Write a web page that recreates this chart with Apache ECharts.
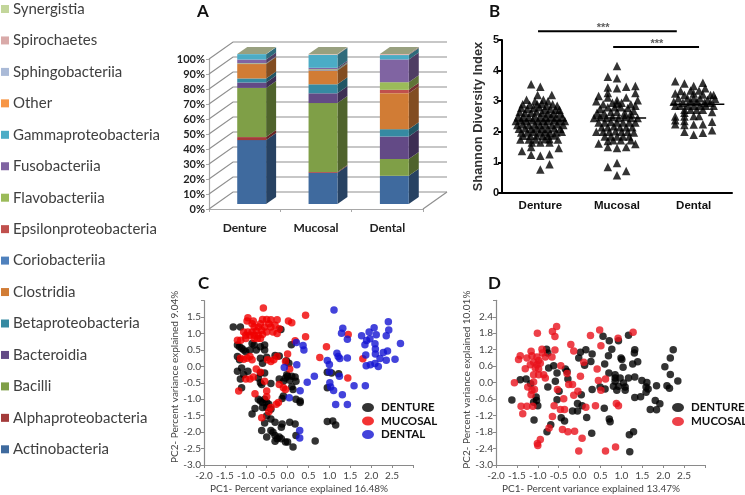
<!DOCTYPE html>
<html><head><meta charset="utf-8">
<style>html,body{margin:0;padding:0;background:#fff}#c{width:745px;height:495px}</style>
<script src="https://cdn.jsdelivr.net/npm/echarts@6/dist/echarts.min.js"></script>
</head><body><div id="c"></div>
<script>
const groups = ['Denture','Mucosal','Dental'];
const taxa = ['Actinobacteria','Alphaproteobacteria','Bacilli','Bacteroidia','Betaproteobacteria','Clostridia','Coriobacteriia','Epsilonproteobacteria','Flavobacteriia','Fusobacteriia','Gammaproteobacteria','Other','Sphingobacteriia','Spirochaetes','Synergistia'];
const taxaColors = ['#3f6a9e','#a33b3a','#7f9f47','#634a86','#368aa2','#d17c35','#4f81bd','#c0504d','#9bbb59','#8064a2','#4bacc6','#f79646','#aabad7','#d9aaa9','#c3d69b'];
const dentureShare = [42.6,2.0,32.8,3.6,2.7,9.6,0.2,0.1,0.3,2.4,3.6,0,0,0,0];
const mucosalShare = [20.8,0.6,45.9,6.5,6.0,9.2,0.3,0.1,0.4,1.0,8.7,0.2,0.1,0.1,0];
const dentalShare = [18.8,0,11.2,15.0,4.9,24.0,0,2.2,5.1,15.2,2.9,0.2,0,0.5,0];
const percentTicks = [0,10,20,30,40,50,60,70,80,90,100];

const shannonDenture = [[.38,3.55],[.5,3.47],[.465,3.2],[.65,3.2],[.32,3.05],[.54,3.05],[.43,3],[.6,3],
[.27,2.9],[.36,2.88],[.46,2.9],[.52,2.92],[.58,2.85],[.66,2.9],[.72,2.85],[.25,2.78],[.33,2.75],[.41,2.78],[.49,2.8],[.56,2.72],[.63,2.75],[.7,2.72],[.75,2.72],
[.23,2.65],[.3,2.62],[.38,2.62],[.45,2.66],[.52,2.62],[.6,2.6],[.67,2.6],[.76,2.6],[.21,2.5],[.28,2.5],[.35,2.48],[.43,2.52],[.5,2.5],[.57,2.48],[.64,2.5],[.71,2.48],[.79,2.48],
[.18,2.35],[.25,2.38],[.32,2.35],[.4,2.38],[.47,2.35],[.54,2.36],[.6,2.35],[.68,2.38],[.75,2.35],[.82,2.35],[.2,2.22],[.27,2.25],[.35,2.22],[.43,2.25],[.5,2.22],[.57,2.24],[.65,2.22],[.72,2.25],[.8,2.22],
[.22,2.1],[.3,2.12],[.38,2.1],[.45,2.12],[.52,2.1],[.6,2.1],[.68,2.12],[.76,2.1],[.25,1.98],[.33,1.98],[.41,2],[.49,1.98],[.56,2],[.63,1.96],[.71,1.98],[.78,2],
[.28,1.87],[.37,1.87],[.45,1.88],[.53,1.86],[.6,1.87],[.68,1.88],[.24,1.75],[.35,1.75],[.44,1.75],[.56,1.76],[.62,1.76],[.73,1.75],[.5,1.65],[.39,1.65],[.62,1.65],
[.38,1.5],[.74,1.47],[.26,1.37],[.38,1.25],[.5,1.22],[.62,1.27],[.62,.94],[.5,.77]];
const shannonMucosal = [[1.5,4.15],[1.38,3.8],[1.5,3.75],[1.38,3.45],[1.5,3.42],[1.62,3.47],[1.74,3.5],[1.74,3.27],[1.38,3.27],[1.26,3.17],[1.23,3],[1.62,3.12],[1.38,3.12],[1.5,3.03],[1.77,3.03],
[1.32,2.9],[1.44,2.95],[1.5,2.92],[1.56,2.95],[1.68,2.9],[1.74,2.85],[1.28,2.75],[1.38,2.8],[1.47,2.8],[1.55,2.8],[1.64,2.78],[1.72,2.68],[1.24,2.62],[1.33,2.62],[1.42,2.65],[1.5,2.65],[1.6,2.62],[1.68,2.6],
[1.2,2.45],[1.28,2.48],[1.36,2.45],[1.44,2.48],[1.52,2.45],[1.6,2.48],[1.68,2.45],[1.77,2.45],[1.26,2.3],[1.34,2.3],[1.42,2.32],[1.5,2.3],[1.58,2.3],[1.66,2.3],[1.74,2.3],
[1.3,2.15],[1.38,2.15],[1.46,2.18],[1.54,2.15],[1.62,2.15],[1.7,2.15],[1.23,2],[1.32,2],[1.4,2],[1.48,2.02],[1.56,2],[1.64,2],[1.72,1.98],[1.34,1.85],[1.42,1.85],[1.5,1.85],[1.58,1.85],[1.66,1.85],
[1.26,1.62],[1.38,1.7],[1.45,1.72],[1.55,1.72],[1.68,1.72],[1.74,1.6],[1.38,1.5],[1.5,1.47],[1.62,1.5],[1.38,.85],[1.5,.98],[1.62,.72],[1.5,.58]];
const shannonDental = [[2.26,3.65],[2.38,3.58],[2.5,3.5],[2.62,3.6],[2.65,3.42],[2.26,3.25],[2.33,3.33],[2.46,3.35],[2.57,3.35],[2.76,3.2],[2.78,3.08],[2.72,3.2],
[2.38,3.2],[2.5,3.25],[2.62,3.22],[2.3,3.1],[2.42,3.1],[2.5,3.1],[2.58,3.1],[2.68,3.05],[2.24,2.98],[2.36,2.95],[2.46,2.98],[2.54,2.98],[2.64,2.95],[2.72,2.95],
[2.26,2.85],[2.32,2.85],[2.42,2.85],[2.5,2.85],[2.58,2.85],[2.66,2.85],[2.76,2.85],[2.38,2.72],[2.46,2.72],[2.54,2.72],[2.62,2.72],[2.74,2.65],
[2.26,2.5],[2.38,2.5],[2.38,2.62],[2.5,2.52],[2.57,2.52],[2.26,2.38],[2.38,2.35],[2.26,2.25],[2.38,2.22],[2.5,2.24],[2.62,2.25],[2.74,2.33],[2.38,2],[2.5,1.9],[2.62,1.97],[2.74,2.05]];
const shannonMeans = [[.16,.84,2.35],[1.19,1.88,2.45],[2.2,2.9,2.9]];
const significance = [[.47,2.28,5.29,1.32],[1.45,2.57,4.77,2.02]];

const pcoaDental = [[1.11,1.72],[1.32,1.16],[1.29,1.01],[1.43,.83],[1.77,.93],[1.95,1.05],[2.07,1.18],[2.41,1.36],[2.42,1.11],[2.36,.93],[2.12,.96],[1.97,.84],[1.89,.79],[1.85,.66],[2.09,.69],[2.7,.7],[2.1,.53],[2.1,.38],[2.29,.42],[2.39,.47],[1.87,.35],[2.21,.24],[2.36,.19],[2.57,.22],[1.88,.02],[1.98,.05],[2.09,.09],[2.17,0],[1.18,.4],[1.21,.3],[1.25,.24],[1.43,.26],[.95,.18],[1,.06],[1,-.16],[1.24,-.3],[1.01,-.5],[1.03,-.63],[1.1,-.73],[1.31,-.86],[1.15,-1.16],[1.43,-1.16],[1.59,-.59],[1.86,-.59],[.64,-.3],[.47,-.48],[.3,-.74],[.21,.73],[.37,.64],[.39,.5],[.22,.05],[-.08,-.03],[.04,-.95],[.29,-1.95],[.29,-2.18]];
const pcoaMucosal = [[-.58,1.78],[.43,1.56],[-.95,1.48],[-.97,1.38],[-.82,1.38],[-.6,1.43],[-.5,1.43],[-.4,1.42],[-.25,1.42],[.02,1.38],[.1,1.33],[-.85,1.3],[-.65,1.3],[-.45,1.3],[-.3,1.25],[-.8,1.2],[-.7,1.2],[-.55,1.2],[-.4,1.2],[-.2,1.15],[-1.05,1.05],[-.95,1.05],[-.85,1.05],[-.75,1.08],[-.62,1.1],[-.5,1.05],[-.35,1.05],[-.25,1],[-1,.95],[-.9,.95],[-.8,.95],[-.7,.95],[-.6,.97],[-.8,.85],[-.72,.85],[-.65,.85],[-1.2,.8],[-1.12,.8],[-1,.85],[.43,.9],[.93,.6],[.77,.27],[1.45,.97],[1.8,.23],[0,.38],[.18,.78],
[-1.13,.25],[-1.05,.22],[-.97,.25],[-.9,.3],[-.85,.2],[-.48,.2],[-.4,.15],[-.33,.2],[-.25,.3],[-.75,-.08],[-.65,-.18],[.05,-.08],[-1,-.38],[-.9,-.38],[-.82,-.32],[-.55,-.45],[-.2,-.55],[-.1,-.65],[-.05,-.7],[-1.17,-.75],[-.78,-.83],[-.5,-.75],[-.5,-.92],[-.27,-1.15],[-.22,-1.1],[-.4,-1.25],[-.45,-1.38],[-.62,-1.56],[1.44,-.35],[-.05,.15]];
const pcoaDenture = [[-1.3,1.2],[-1.13,1.2],[-.16,1.12],[.09,.66],[-1.2,.65],[-1.15,.6],[-1.1,.55],[-1.05,.5],[-1,.45],[-.9,.5],[-.85,.7],[-.8,.65],[-.75,.5],[-.65,.6],[-.55,.65],[-.55,.5],[-1.2,.3],[-1.15,.2],[-1.2,-.15],[-1.1,-.05],[-1.13,-.38],[-1.05,-.25],[-.95,-.15],[-1.1,-.65],[-.65,.25],[-.6,.1],[-.5,.28],[-.3,.33],[-.2,.32],[-.03,.17],[.03,.1],[-.65,-.2],[-.7,-.35],[-.55,-.2],[-.65,-.5],[-.62,-.55],[-.4,-.52],[-.2,-.38],[-.1,-.45],[-.05,-.35],[0,-.3],[.05,-.42],[.1,-.3],[.18,-.32],[.2,-.45],[-.02,-.25],[.13,-.7],[.1,-.62],[-.1,-.9],[-.13,-.98],[.2,-1],[.3,-1.05],[.3,-1.1],
[-.7,-1],[-.65,-1.05],[-.6,-1.1],[-.55,-1],[-.5,-1.1],[-.45,-1.15],[-.6,-1.25],[-.5,-1.25],[-.4,-1.3],[-.78,-1.28],[-.85,-1.45],[-.5,-1.5],[-.4,-1.6],[-.3,-1.7],[-.13,-1.75],[.05,-1.7],[.18,-1.75],[-.55,-1.72],[-.15,-1.85],[-.62,-1.95],[-.4,-1.95],[-.35,-2],[-.3,-2.1],[-.25,-2.2],[-.2,-2.15],[-.15,-2.2],[-.5,-2.15],[-.3,-2.28],[-.05,-2.3],[0,-2.3],[.2,-2.1],[.13,-2.45],[.66,-2.27],[.95,-1.68],[1.08,-1.66],[1.15,-1.78],[.95,-.65],[.95,-.18],[1.22,-.22],[1.05,-.2]];

const pcoa2Mucosal = [[-.55,2.05],[-.65,1.86],[-.59,1.68],[-1.01,1.8],[.48,1.92],[.26,1.72],[1.28,1.84],[.92,1.62],[.51,1.34],[-.21,1.39],[-.14,1.15],[-.59,1.19],[-.9,1.22],[-1.16,1.14],[-1.42,.98],[-1.46,.84],[-1.26,.9],[-1.14,.98],[-1.02,.93],[-.89,1.08],[-.82,.93],[-.66,.93],[-.98,.81],[-1.1,.74],[-1.18,.65],[-1.3,.51],[-1.02,.65],[-.94,.71],[-1.06,.53],[-.98,.5],[-1.1,.29],[-.98,.29],[-.86,.29],[-.82,.17],[-1.1,.02],[-1.56,0],[-1.24,-.16],[-1.14,-.28],[-1.08,-.25],[-1.16,-.44],[-1.4,-.86],[-1.26,-.86],[-1.12,-.86],[-1.36,-1.13],[-.45,.62],[-.3,.33],[-.53,-.25],[-.26,-.07],[-.17,-.07],[-.04,-.31],[-.14,-.46],[-.38,-.59],[-.61,-.84],[-.36,-.98],[-.46,-.98],[.15,-.9],[.38,-.84],[.88,-.76],[.93,-.84],[-.65,-1.23],[-.73,-1.65],[-.41,-1.71],[-.28,-1.79],[-.12,-1.77],[.06,-2.03],[-.94,-2.07],[-1.01,-2.22],[-1,-2.29],[-.02,-2.49],[.62,-2.49],[.86,-2.34],[.02,.23],[.1,.74],[.42,.5],[.45,.08],[.62,.13],[.51,-.28]];
const pcoa2Denture = [[.56,1.69],[.71,1.53],[.93,1.53],[1.17,1.73],[.77,1.22],[1.32,1.2],[1.31,1.08],[2.24,1.2],[2.17,.9],[2.04,.58],[2.17,.3],[2.35,.06],[.15,1.2],[.02,1.11],[.3,1.04],[-.02,.9],[.27,.77],[.12,.63],[.69,.98],[.99,.9],[1.01,.84],[.6,.68],[1.04,.56],[1.27,.68],[1.39,.76],[.7,.35],[.85,.29],[.85,.17],[.97,.17],[1.17,.17],[1.32,.21],[1.49,.08],[1.61,.01],[.85,.05],[1.05,-.01],[.81,-.13],[.93,-.13],[1.09,-.16],[.89,-.28],[1.09,-.28],[.49,-.16],[.61,-.23],[.3,-.25],[1.59,-.16],[1.64,-.23],[1.59,-.35],[1.84,-.11],[2.09,-.11],[2.15,-.2],[1.46,-.51],[1.32,-.54],[1.81,-.65],[1.92,-.77],[1.69,-.98],[1.84,-.99],[.59,-.93],[.04,-.44],[-.05,-.76],[.06,-.84],[-.17,-1.03],[-.05,-1.03],[.17,-1.27],[.71,-1.32],[.73,-1.42],[.29,-1.84],[1.19,-1.9],[1.29,-1.79],[1.2,-2.52],[-1.62,-.63],[-1.42,.11],[-1.28,.13],[-1.17,-.04],[-.79,1.22],[-.76,1.08],[-.74,.53],[-.62,.62],[-.76,-.16],[-.58,.05],[-.54,.35],[-.34,.5],[-.3,.41],[-.28,.13],[-.49,-.31],[-.54,-.62],[-1.04,-.52],[-1.03,-.65],[-1.1,-.71],[-1,-.84],[-1.09,-1.36],[-.44,-1.28],[-.36,-1.4],[-.69,-1.53],[-.78,-1.79]];

const calibri = 'Lato, Carlito, "Open Sans", sans-serif';
const arial = '"Liberation Sans", Arial, sans-serif';
const WALL = [24,-17], PLANE = [7,-5], DEPTH = [10,-7];
const OVAL = 'path://M0 5a7 5 0 1 0 14 0a7 5 0 1 0 -14 0z';

function darken(hex,f){const n=parseInt(hex.slice(1),16);const c=[n>>16,(n>>8)&255,n&255].map(v=>Math.round(v*f));return `rgb(${c})`;}

const stackSeries = taxa.map((name,t)=>{
  const rows = [dentureShare,mucosalShare,dentalShare].map((r,g)=>{
    let s=0; for(let i=0;i<t;i++) s+=r[i];
    return [g,s,s+r[t]];
  }).filter(d=>d[2]>d[1]);
  return {name,type:'custom',xAxisIndex:0,yAxisIndex:0,z:3,itemStyle:{color:taxaColors[t]},data:rows,
    renderItem(p,api){
      const lo=api.coord([api.value(0),api.value(1)]),hi=api.coord([api.value(0),api.value(2)]);
      const w=api.size([1,0])[0]*0.405, x0=lo[0]+PLANE[0]-w/2, x1=x0+w, y0=lo[1]+PLANE[1], y1=hi[1]+PLANE[1];
      return {type:'group',children:[
        {type:'polygon',shape:{points:[[x1,y0],[x1+DEPTH[0],y0+DEPTH[1]],[x1+DEPTH[0],y1+DEPTH[1]],[x1,y1]]},style:{fill:darken(taxaColors[t],.62)}},
        {type:'rect',shape:{x:x0,y:y1,width:w,height:y0-y1},style:{fill:taxaColors[t]}}
      ]};
    }};
});
const topSeries = {type:'custom',silent:true,xAxisIndex:0,yAxisIndex:0,z:4,data:[[0,100],[1,100],[2,100]],
  renderItem(p,api){
    const hi=api.coord([api.value(0),api.value(1)]);
    const w=api.size([1,0])[0]*0.405,x0=hi[0]+PLANE[0]-w/2,x1=x0+w,y=hi[1]+PLANE[1];
    return {type:'polygon',shape:{points:[[x0,y],[x1,y],[x1+DEPTH[0],y+DEPTH[1]],[x0+DEPTH[0],y+DEPTH[1]]]},style:{fill:'#98a07f'}};
  }};
const wallSeries = {type:'custom',silent:true,xAxisIndex:0,yAxisIndex:0,z:1,data:percentTicks.map(v=>[0,v]),
  renderItem(p,api){
    const cs=p.coordSys,y=api.coord([0,api.value(1)])[1],x=cs.x,r=cs.x+cs.width;
    const st={stroke:'#8f8f8f',lineWidth:1.2,fill:null};
    const kids=[
      {type:'polyline',shape:{points:[[x,y],[x+WALL[0],y+WALL[1]],[r+WALL[0],y+WALL[1]]]},style:st}
    ];
    if(api.value(1)===0) kids.push({type:'line',shape:{x1:r,y1:y,x2:r+WALL[0],y2:y+WALL[1]},style:st});
    return {type:'group',children:kids};
  }};

const tri = (name,data)=>({name,type:'scatter',xAxisIndex:2,yAxisIndex:1,symbol:'triangle',symbolSize:8.5,itemStyle:{color:'#000'},data,z:3});
const meanSeries = shannonMeans.map(m=>({type:'line',xAxisIndex:2,yAxisIndex:1,silent:true,symbol:'none',z:4,lineStyle:{color:'#000',width:1.5},data:[[m[0],m[2]],[m[1],m[2]]]}));
const sigSeries = significance.map(s=>({type:'line',xAxisIndex:2,yAxisIndex:1,silent:true,symbol:'none',clip:false,lineStyle:{color:'#000',width:2},data:[[s[0],s[2]],[s[1],s[2]]]}));
const sigText = {type:'scatter',xAxisIndex:2,yAxisIndex:1,silent:true,clip:false,symbolSize:0,itemStyle:{color:'transparent'},
  label:{show:true,position:'top',distance:-2,formatter:'***',color:'#333',fontFamily:arial,fontSize:11,fontWeight:'bold'},
  data:significance.map(s=>[s[3],s[2]])};

const pc = (name,color,x,y,data,z)=>({name,type:'scatter',xAxisIndex:x,yAxisIndex:y,symbolSize:7.5,itemStyle:{color},data,z});

const valAxis=(grid,o)=>Object.assign({type:'value',gridIndex:grid,splitLine:{show:false},
  axisLine:{show:true,onZero:false,lineStyle:{color:'#8a8a8a',width:1.2}},axisTick:{show:true,length:3,lineStyle:{color:'#8a8a8a'}},
  nameLocation:'middle'},o);
const nameFont=padding=>({color:'#444',fontFamily:calibri,fontSize:10,padding});
const oneDec=lim=>v=>v>=lim?'':v.toFixed(1);
const tickFont=(margin,lim)=>({color:'#444',fontFamily:calibri,fontSize:10,margin,formatter:oneDec(lim)});
const keyText=pad=>({fontFamily:calibri,fontSize:11.5,fontWeight:'bold',color:'#111',height:13,lineHeight:13,padding:[0,0,0,pad]});

const chart = echarts.init(document.getElementById('c'),null,{renderer:'canvas'});
chart.setOption({
  animation:false,backgroundColor:'#fff',
  title:['A','B','C','D'].map((t,i)=>({text:t,left:[197,489,198,488][i],top:[3,3,275,275][i],padding:0,textStyle:{fontFamily:calibri,fontSize:17,fontWeight:'bold',color:'#111'}})),
  legend:[
    {orient:'vertical',left:1,top:0,icon:'rect',itemWidth:8,itemHeight:8,itemGap:13.45,padding:0,selectedMode:false,data:taxa.slice().reverse(),textStyle:{fontFamily:calibri,fontSize:15,color:'#404040',padding:[0,0,0,-1],height:18,lineHeight:18}},
    {orient:'vertical',left:362,top:401,icon:OVAL,itemWidth:12,itemHeight:9,itemGap:.5,padding:0,selectedMode:false,symbolKeepAspect:false,data:['DENTURE','MUCOSAL','DENTAL'],textStyle:keyText(2)},
    {orient:'vertical',left:672,top:401,icon:OVAL,itemWidth:12,itemHeight:9,itemGap:1,padding:0,selectedMode:false,symbolKeepAspect:false,data:['DENTURE ','MUCOSAL '],textStyle:keyText(2)}
  ],
  grid:[
    {left:209,top:59,width:214,height:150},
    {left:502,top:40,width:230,height:153},
    {left:204,top:300.7,width:209,height:165},
    {left:496,top:300.3,width:209,height:165.4}
  ],
  xAxis:[
    {type:'category',gridIndex:0,data:groups,axisLine:{lineStyle:{color:'#a8a8a8',width:1.2}},axisTick:{show:true,alignWithLabel:false,length:3,lineStyle:{color:'#a8a8a8'}},axisLabel:{color:'#222',fontFamily:calibri,fontWeight:'bold',fontSize:12,margin:13}},
    {type:'category',gridIndex:1,data:groups,axisLine:{lineStyle:{color:'#000',width:2}},axisTick:{show:false},axisLabel:{color:'#111',fontFamily:arial,fontWeight:'bold',fontSize:11.5,margin:7}},
    {type:'value',gridIndex:1,min:0,max:3,show:false,splitLine:{show:false}},
    valAxis(2,{min:-2,max:3,interval:.5,name:'PC1- Percent variance explained 16.48%',nameGap:19,nameTextStyle:nameFont([0,19,0,0]),axisLabel:tickFont(6,3)}),
    valAxis(3,{min:-2,max:3,interval:.5,name:'PC1- Percent variance explained 13.47%',nameGap:19,nameTextStyle:nameFont([0,19,0,0]),axisLabel:tickFont(6,3)})
  ],
  yAxis:[
    {type:'value',gridIndex:0,min:0,max:100,interval:10,splitLine:{show:false},axisLine:{show:true,lineStyle:{color:'#a8a8a8',width:1.2}},axisTick:{show:true,length:3,lineStyle:{color:'#a8a8a8'}},axisLabel:{color:'#222',fontFamily:calibri,fontSize:11,fontWeight:'bold',margin:4,formatter:'{value}%'}},
    {type:'value',gridIndex:1,min:0,max:5,interval:1,splitLine:{show:false},name:'Shannon Diversity Index',nameLocation:'middle',nameGap:17,nameTextStyle:{color:'#333',fontFamily:arial,fontSize:12.8,fontWeight:'bold'},axisLine:{show:true,lineStyle:{color:'#000',width:2}},axisTick:{show:true,length:4,lineStyle:{color:'#000',width:2}},axisLabel:{color:'#111',fontFamily:arial,fontWeight:'bold',fontSize:11,margin:3}},
    valAxis(2,{min:-3,max:2,interval:.5,name:'PC2- Percent variance explained 9.04%',nameGap:21,nameTextStyle:nameFont([0,0,0,12]),axisLabel:tickFont(3,2)}),
    valAxis(3,{min:-3,max:3,interval:.6,name:'PC2- Percent variance explained 10.01%',nameGap:19,nameTextStyle:nameFont([0,0,0,6]),axisLabel:tickFont(3,3)})
  ],
  series:[wallSeries,...stackSeries,topSeries,
    tri('Denture',shannonDenture),tri('Mucosal',shannonMucosal),tri('Dental',shannonDental),...meanSeries,...sigSeries,sigText,
    pc('DENTURE','#000',3,2,pcoaDenture,3),pc('MUCOSAL','#f00000',3,2,pcoaMucosal,4),pc('DENTAL','#1414d2',3,2,pcoaDental,5),
    pc('DENTURE ','#000',4,3,pcoa2Denture,3),pc('MUCOSAL ','#e8121c',4,3,pcoa2Mucosal,4)
  ]
});
</script></body></html>
